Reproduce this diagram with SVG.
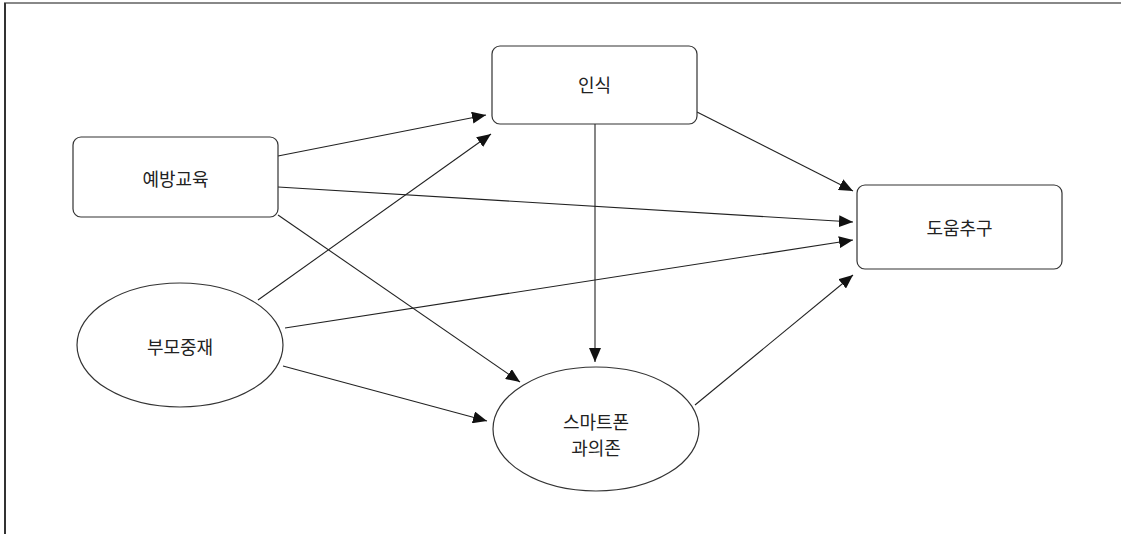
<svg xmlns="http://www.w3.org/2000/svg" width="1121" height="534" viewBox="0 0 1121 534">
<style>
.node{fill:#fff;stroke:#333;stroke-width:1.2}
.lbl{font-family:"Noto Sans CJK KR","Noto Sans",sans-serif;font-size:18px;fill:#222;text-anchor:middle;dominant-baseline:central}
.edge{stroke:#222;stroke-width:1.1;fill:none;marker-end:url(#ah)}
</style>
<defs>
<marker id="ah" viewBox="0 0 14 12" refX="14" refY="6" markerWidth="14" markerHeight="12" markerUnits="userSpaceOnUse" orient="auto">
<path d="M0,0 L14,6 L0,12 Z" fill="#111"/>
</marker>
</defs>
<rect width="1121" height="534" fill="#fff"/>
<line x1="4" y1="3" x2="1121" y2="3" stroke="#888" stroke-width="2"/>
<line x1="5" y1="3" x2="5" y2="534" stroke="#333" stroke-width="2"/>
<g id="edges">
<line class="edge" x1="278" y1="156" x2="486" y2="115"/>
<line class="edge" x1="697" y1="112" x2="853" y2="191"/>
<line class="edge" x1="278" y1="187" x2="853" y2="222"/>
<line class="edge" x1="285" y1="328" x2="853" y2="240"/>
<line class="edge" x1="258" y1="300" x2="491" y2="134"/>
<line class="edge" x1="278" y1="215" x2="520" y2="382"/>
<line class="edge" x1="595" y1="124" x2="595" y2="362"/>
<line class="edge" x1="283" y1="366" x2="487" y2="421"/>
<line class="edge" x1="695" y1="405" x2="853" y2="275"/>
</g>
<g id="n-yebang">
<rect class="node" x="73" y="137" width="205" height="80" rx="8"/>
<text class="lbl" x="175.5" y="178">예방교육</text>
</g>
<g id="n-bumo">
<ellipse class="node" cx="180" cy="345" rx="103" ry="62"/>
<text class="lbl" x="180" y="346">부모중재</text>
</g>
<g id="n-insik">
<rect class="node" x="492" y="46" width="205" height="78" rx="8"/>
<text class="lbl" x="594.5" y="84">인식</text>
</g>
<g id="n-doum">
<rect class="node" x="857" y="185" width="205" height="84" rx="8"/>
<text class="lbl" x="959.5" y="227">도움추구</text>
</g>
<g id="n-smart">
<ellipse class="node" cx="596" cy="429" rx="103" ry="62"/>
<text class="lbl" x="596" y="421">스마트폰</text>
<text class="lbl" x="596" y="447">과의존</text>
</g>
</svg>
